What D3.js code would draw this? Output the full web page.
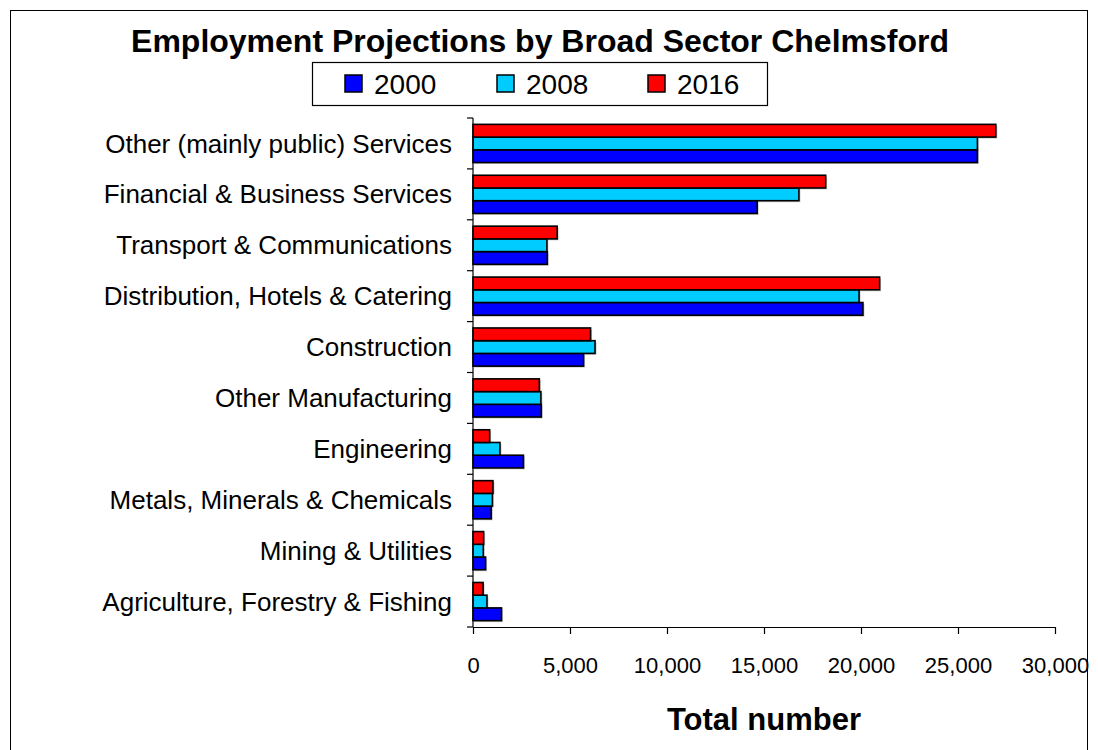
<!DOCTYPE html>
<html>
<head>
<meta charset="utf-8">
<script src="https://cdn.jsdelivr.net/npm/d3@7"></script>
<style>
  html, body { margin: 0; padding: 0; background: #fff; }
  svg { display: block; font-family: Arial, "Liberation Sans", sans-serif; }
</style>
</head>
<body>
<svg id="chart" width="1098" height="750"></svg>
<script>
// ---- data (top to bottom as in the chart) ----
const categories = [
  "Other (mainly public) Services",
  "Financial & Business Services",
  "Transport & Communications",
  "Distribution, Hotels & Catering",
  "Construction",
  "Other Manufacturing",
  "Engineering",
  "Metals, Minerals & Chemicals",
  "Mining & Utilities",
  "Agriculture, Forestry & Fishing"
];
const years = ["2000", "2008", "2016"];
const values2000 = [26000, 14650, 3830, 20100, 5700, 3520, 2600, 940, 650, 1470];
const values2008 = [26000, 16800, 3810, 19900, 6290, 3500, 1390, 1000, 530, 720];
const values2016 = [26950, 18180, 4340, 20960, 6060, 3420, 860, 1030, 550, 520];
const seriesColors = ["#0000FF", "#00CCFF", "#FF0000"];
const xTicks = [0, 5000, 10000, 15000, 20000, 25000, 30000];
const titleText = "Employment Projections by Broad Sector Chelmsford";
const xAxisTitle = "Total number";

const seriesValues = { "2000": values2000, "2008": values2008, "2016": values2016 };

const svg = d3.select("#chart");

// outer border
svg.append("rect")
  .attr("x", 10.5).attr("y", 10.5).attr("width", 1077).attr("height", 760)
  .attr("fill", "#fff").attr("stroke", "#000").attr("stroke-width", 1);

const x = d3.scaleLinear().domain([0, 30000]).range([473, 1055]);
const y = d3.scaleBand().domain(categories).range([118, 627])
  .paddingInner(0.25).paddingOuter(0.125);
// bars order inside a group: 2016 (top), 2008, 2000 (bottom)
const sub = d3.scaleBand().domain(["2016", "2008", "2000"]).range([0, y.bandwidth()]);
const color = d3.scaleOrdinal().domain(years).range(seriesColors);

// title
svg.append("text")
  .attr("x", 540).attr("y", 52)
  .attr("text-anchor", "middle")
  .attr("font-size", 32).attr("font-weight", "bold")
  .text(titleText);

// legend
const lg = svg.append("g");
lg.append("rect").attr("x", 312.5).attr("y", 62.5).attr("width", 455).attr("height", 43)
  .attr("fill", "#fff").attr("stroke", "#000").attr("stroke-width", 1.2);
const legendX = [345, 497, 648];
years.forEach((yr, i) => {
  lg.append("rect").attr("x", legendX[i]).attr("y", 75).attr("width", 17).attr("height", 17)
    .attr("fill", color(yr)).attr("stroke", "#000").attr("stroke-width", 1.5);
  lg.append("text").attr("x", legendX[i] + 29).attr("y", 94)
    .attr("font-size", 28).text(yr);
});

// bars
const rows = [];
categories.forEach((c, ci) => {
  years.forEach(yr => rows.push({ cat: c, year: yr, value: seriesValues[yr][ci] }));
});
const barG = svg.append("g");
// shadow
barG.selectAll("rect.shadow").data(rows).join("rect")
  .attr("class", "shadow")
  .attr("x", x(0) + 1.5)
  .attr("y", d => y(d.cat) + sub(d.year) + 1.5)
  .attr("width", d => x(d.value) - x(0))
  .attr("height", sub.bandwidth())
  .attr("fill", "#aaa").attr("opacity", 0.6);
barG.selectAll("rect.bar").data(rows).join("rect")
  .attr("class", "bar")
  .attr("x", x(0))
  .attr("y", d => y(d.cat) + sub(d.year))
  .attr("width", d => x(d.value) - x(0))
  .attr("height", sub.bandwidth())
  .attr("fill", d => color(d.year))
  .attr("stroke", "#000").attr("stroke-width", 1.6);

// y axis (category boundaries as ticks)
const yTop = y.range()[0], yBot = y.range()[1];
const step = y.step();
const axisG = svg.append("g");
axisG.append("line").attr("x1", x(0)).attr("x2", x(0)).attr("y1", yTop).attr("y2", yBot)
  .attr("stroke", "#000").attr("stroke-width", 1.2);
d3.range(categories.length + 1).forEach(i => {
  const yy = yTop + i * step;
  axisG.append("line").attr("x1", x(0) - 6).attr("x2", x(0)).attr("y1", yy).attr("y2", yy)
    .attr("stroke", "#000").attr("stroke-width", 1.2);
});
categories.forEach(c => {
  axisG.append("text").attr("x", 452).attr("y", y(c) + y.bandwidth() / 2)
    .attr("dy", "0.35em").attr("text-anchor", "end")
    .attr("font-size", 26).text(c);
});

// x axis
const xAxis = d3.axisBottom(x).tickValues(xTicks).tickSize(7).tickSizeOuter(0)
  .tickFormat(d3.format(","));
const xg = svg.append("g").attr("transform", `translate(0,${yBot})`).call(xAxis);
xg.select(".domain").attr("stroke", "#000").attr("stroke-width", 1.2);
xg.selectAll(".tick line").attr("stroke", "#000").attr("stroke-width", 1.2);
xg.selectAll(".tick text").attr("font-size", 22).attr("font-family", "Arial, 'Liberation Sans', sans-serif")
  .attr("fill", "#000").attr("y", 0).attr("dy", 46);

// x axis title
svg.append("text").attr("x", (x(0) + x(30000)) / 2).attr("y", 730)
  .attr("text-anchor", "middle").attr("font-size", 31).attr("font-weight", "bold")
  .text(xAxisTitle);
</script>
</body>
</html>
